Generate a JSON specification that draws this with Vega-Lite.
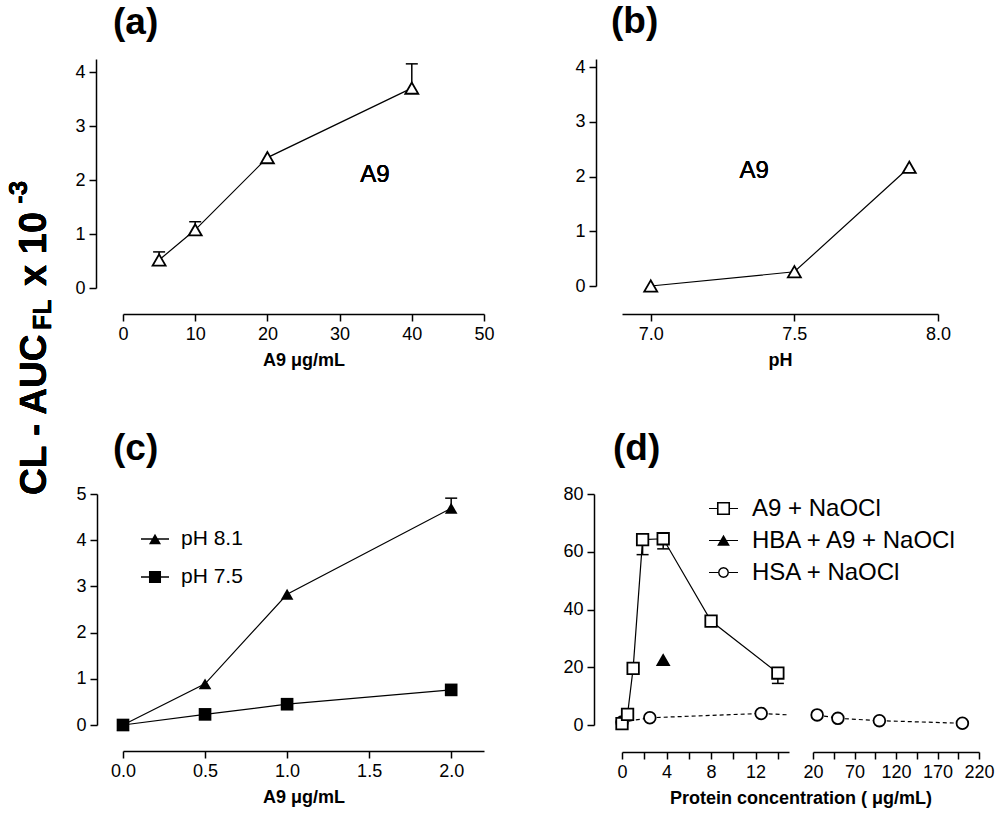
{
  "$schema": "https://vega.github.io/schema/vega-lite/v6.json",
  "background": "white",
  "padding": {"left": 5, "top": 3, "right": 5, "bottom": 5},
  "config": {
    "font": "Liberation Sans",
    "view": {"stroke": null},
    "point": {"opacity": 1},
    "tick": {"opacity": 1},
    "axis": {
      "grid": false,
      "domainColor": "black",
      "domainWidth": 1.5,
      "tickColor": "black",
      "tickWidth": 1.5,
      "tickSize": 7,
      "labelColor": "black",
      "labelFontSize": 18,
      "labelPadding": 4,
      "labelFlush": false,
      "labelOverlap": false,
      "titleColor": "black",
      "titleFontSize": 18,
      "titleFontWeight": "bold",
      "titlePadding": 8
    },
    "axisX": {"offset": 26},
    "axisY": {"offset": 27},
    "title": {
      "anchor": "start",
      "frame": "group",
      "fontSize": 37,
      "fontWeight": "bold",
      "color": "black",
      "baseline": "bottom",
      "offset": 17
    },
    "legend": {
      "title": null,
      "orient": "none",
      "padding": 0,
      "labelColor": "black",
      "labelLimit": 400,
      "symbolOpacity": 1,
      "symbolFillColor": "black",
      "symbolStrokeWidth": 0
    }
  },
  "datasets": {
    "a": [
      {"x": 5, "y": 0.52, "e": 0.67},
      {"x": 10, "y": 1.08, "e": 1.23},
      {"x": 20, "y": 2.42},
      {"x": 40, "y": 3.71, "e": 4.16}
    ],
    "b": [
      {"x": 7.0, "y": 0.0},
      {"x": 7.5, "y": 0.26},
      {"x": 7.9, "y": 2.17}
    ],
    "c": [
      {"s": "pH 8.1", "x": 0, "y": 0},
      {"s": "pH 8.1", "x": 0.5, "y": 0.89},
      {"s": "pH 8.1", "x": 1, "y": 2.83},
      {"s": "pH 8.1", "x": 2, "y": 4.69, "e": 4.91},
      {"s": "pH 7.5", "x": 0, "y": 0},
      {"s": "pH 7.5", "x": 0.5, "y": 0.23},
      {"s": "pH 7.5", "x": 1, "y": 0.45},
      {"s": "pH 7.5", "x": 2, "y": 0.76}
    ],
    "d": [
      {"s": "HSA + NaOCl", "x": 0, "y": 1.0},
      {"s": "HSA + NaOCl", "x": 2.5, "y": 2.5},
      {"s": "HSA + NaOCl", "x": 12.5, "y": 4.0},
      {"s": "HSA + NaOCl", "x": 25, "y": 3.5},
      {"s": "HSA + NaOCl", "x": 50, "y": 2.3},
      {"s": "HSA + NaOCl", "x": 100, "y": 1.5},
      {"s": "HSA + NaOCl", "x": 200, "y": 0.6},
      {"s": "A9 + NaOCl", "x": 0, "y": 0.5},
      {"s": "A9 + NaOCl", "x": 0.5, "y": 3.7},
      {"s": "A9 + NaOCl", "x": 1, "y": 19.6},
      {"s": "A9 + NaOCl", "x": 1.85, "y": 64.2, "e": 59},
      {"s": "A9 + NaOCl", "x": 3.7, "y": 64.5, "e": 61},
      {"s": "A9 + NaOCl", "x": 8, "y": 36},
      {"s": "A9 + NaOCl", "x": 14, "y": 18, "e": 14.4},
      {"s": "HBA + A9 + NaOCl", "x": 3.7, "y": 22.5}
    ]
  },
  "columns": 2,
  "bounds": "flush",
  "align": "each",
  "spacing": {"row": 206, "column": 138},
  "resolve": {
    "scale": {"shape": "independent", "fill": "independent", "size": "independent"},
    "legend": {"shape": "independent", "fill": "independent", "size": "independent"}
  },
  "concat": [
    {
      "width": 361,
      "height": 229,
      "title": {"text": "(a)", "dx": -10},
      "data": {"name": "a"},
      "layer": [
        {
          "mark": {"type": "line", "color": "black", "strokeWidth": 1.2},
          "encoding": {
            "x": {"field": "x", "type": "quantitative", "title": "A9 μg/mL",
                  "scale": {"domain": [0, 50], "nice": false, "zero": false},
                  "axis": {"values": [0, 10, 20, 30, 40, 50]}},
            "y": {"field": "y", "type": "quantitative",
                  "scale": {"domain": [0, 4.25], "nice": false},
                  "axis": {"values": [0, 1, 2, 3, 4], "format": "d", "title": null}}
          }
        },
        {
          "transform": [{"filter": "isValid(datum.e)"}],
          "mark": {"type": "rule", "color": "black", "strokeWidth": 1.5},
          "encoding": {
            "x": {"field": "x", "type": "quantitative"},
            "y": {"field": "y", "type": "quantitative"},
            "y2": {"field": "e"}
          }
        },
        {
          "transform": [{"filter": "isValid(datum.e)"}],
          "mark": {"type": "tick", "orient": "horizontal", "size": 12, "thickness": 1.5, "color": "black"},
          "encoding": {
            "x": {"field": "x", "type": "quantitative"},
            "y": {"field": "e", "type": "quantitative"}
          }
        },
        {
          "mark": {"type": "point", "shape": "triangle-up", "size": 169, "filled": true, "fill": "white", "stroke": "black", "strokeWidth": 1.8},
          "encoding": {
            "x": {"field": "x", "type": "quantitative"},
            "y": {"field": "y", "type": "quantitative"}
          }
        },
        {
          "mark": {"type": "text", "text": "A9", "fontSize": 24, "color": "black"},
          "encoding": {"x": {"datum": 34.9}, "y": {"datum": 2.1}}
        },
        {
          "mark": {"type": "text", "text": "CL - AUC", "fontSize": 37, "fontWeight": "bold", "angle": 270, "align": "left", "baseline": "middle", "color": "black"},
          "encoding": {"x": {"datum": -12.2}, "y": {"datum": -3.84}}
        },
        {
          "mark": {"type": "text", "text": "FL", "fontSize": 25, "fontWeight": "bold", "angle": 270, "align": "left", "baseline": "middle", "dx": 165, "dy": 8, "color": "black"},
          "encoding": {"x": {"datum": -12.2}, "y": {"datum": -3.84}}
        },
        {
          "mark": {"type": "text", "text": "x 10", "fontSize": 38, "fontWeight": "bold", "angle": 270, "align": "left", "baseline": "middle", "dx": 209, "color": "black"},
          "encoding": {"x": {"datum": -12.2}, "y": {"datum": -3.84}}
        },
        {
          "mark": {"type": "text", "text": "-3", "fontSize": 26, "fontWeight": "bold", "angle": 270, "align": "left", "baseline": "middle", "dx": 291, "dy": -16, "color": "black"},
          "encoding": {"x": {"datum": -12.2}, "y": {"datum": -3.84}}
        }
      ]
    },
    {
      "width": 316,
      "height": 227,
      "title": {"text": "(b)", "dx": -11},
      "data": {"name": "b"},
      "layer": [
        {
          "mark": {"type": "line", "color": "black", "strokeWidth": 1.2},
          "encoding": {
            "x": {"field": "x", "type": "quantitative", "title": "pH",
                  "scale": {"domain": [6.9, 8.0], "nice": false, "zero": false},
                  "axis": {"values": [7.0, 7.5, 8.0], "format": ".1f", "offset": 28}},
            "y": {"field": "y", "type": "quantitative",
                  "scale": {"domain": [0, 4.15], "nice": false},
                  "axis": {"values": [0, 1, 2, 3, 4], "format": "d", "title": null, "offset": 26}}
          }
        },
        {
          "mark": {"type": "point", "shape": "triangle-up", "size": 169, "filled": true, "fill": "white", "stroke": "black", "strokeWidth": 1.8},
          "encoding": {
            "x": {"field": "x", "type": "quantitative"},
            "y": {"field": "y", "type": "quantitative"}
          }
        },
        {
          "mark": {"type": "text", "text": "A9", "fontSize": 24, "color": "black"},
          "encoding": {"x": {"datum": 7.36}, "y": {"datum": 2.1}}
        }
      ]
    },
    {
      "width": 361,
      "height": 231,
      "title": {"text": "(c)", "dx": -10},
      "data": {"name": "c"},
      "layer": [
        {
          "mark": {"type": "line", "color": "black", "strokeWidth": 1.2},
          "encoding": {
            "x": {"field": "x", "type": "quantitative", "title": "A9 μg/mL",
                  "scale": {"domain": [0, 2.2], "nice": false, "zero": false},
                  "axis": {"values": [0, 0.5, 1, 1.5, 2], "format": ".1f"}},
            "y": {"field": "y", "type": "quantitative",
                  "scale": {"domain": [0, 5], "nice": false},
                  "axis": {"values": [0, 1, 2, 3, 4, 5], "format": "d", "title": null, "offset": 26}},
            "detail": {"field": "s"}
          }
        },
        {
          "transform": [{"filter": "isValid(datum.e)"}],
          "mark": {"type": "rule", "color": "black", "strokeWidth": 1.5},
          "encoding": {
            "x": {"field": "x", "type": "quantitative"},
            "y": {"field": "y", "type": "quantitative"},
            "y2": {"field": "e"}
          }
        },
        {
          "transform": [{"filter": "isValid(datum.e)"}],
          "mark": {"type": "tick", "orient": "horizontal", "size": 12, "thickness": 1.5, "color": "black"},
          "encoding": {
            "x": {"field": "x", "type": "quantitative"},
            "y": {"field": "e", "type": "quantitative"}
          }
        },
        {
          "mark": {"type": "point", "size": 160, "filled": true, "color": "black"},
          "encoding": {
            "x": {"field": "x", "type": "quantitative"},
            "y": {"field": "y", "type": "quantitative"},
            "shape": {
              "field": "s", "type": "nominal",
              "scale": {"domain": ["pH 8.1", "pH 7.5"], "range": ["triangle-up", "square"]},
              "legend": null
            }
          }
        },
        {
          "transform": [{"filter": "false"}],
          "mark": {"type": "point", "filled": true, "color": "black"},
          "encoding": {
            "shape": {
              "field": "s", "type": "nominal",
              "scale": {"domain": ["pH 8.1", "pH 7.5"],
                        "range": ["M0,-0.37L0.43,0.37L-0.43,0.37ZM-1,-0.045L1,-0.045L1,0.045L-1,0.045Z",
                                  "M-0.43,-0.43L0.43,-0.43L0.43,0.43L-0.43,0.43ZM-1,-0.045L1,-0.045L1,0.045L-1,0.045Z"]},
              "legend": {
                "legendX": 18,
                "legendY": 31,
                "symbolSize": 784,
                "labelFontSize": 21,
                "labelOffset": 12,
                "rowPadding": 14
              }
            }
          }
        }
      ],
      "resolve": {"scale": {"shape": "independent"}}
    },
    {
      "width": 357,
      "height": 231,
      "title": {"text": "(d)", "dx": -9},
      "data": {"name": "d"},
      "layer": [
        {
          "layer": [
            {
              "transform": [{"filter": "datum.s === 'HSA + NaOCl' && datum.x <= 25"}],
              "mark": {"type": "line", "color": "black", "strokeWidth": 1.2, "strokeDash": [4, 3]},
              "encoding": {
                "x": {"field": "x", "type": "quantitative", "title": "Protein concentration ( μg/mL)",
                      "scale": {"domain": [0, 15], "range": [0, 167], "clamp": true, "nice": false, "zero": false},
                      "axis": {"orient": "bottom", "offset": 27, "values": [0, 2, 4, 6, 8, 10, 12, 14],
                               "labelExpr": "datum.value % 4 === 0 ? datum.label : ''", "titleX": 178.5}},
                "y": {"field": "y", "type": "quantitative",
                      "scale": {"domain": [0, 80], "nice": false},
                      "axis": {"values": [0, 20, 40, 60, 80], "title": null, "offset": 28}}
              }
            },
            {
              "transform": [{"filter": "datum.s === 'A9 + NaOCl'"}],
              "mark": {"type": "line", "color": "black", "strokeWidth": 1.2},
              "encoding": {
                "x": {"field": "x", "type": "quantitative"},
                "y": {"field": "y", "type": "quantitative"}
              }
            },
            {
              "transform": [{"filter": "isValid(datum.e)"}],
              "mark": {"type": "rule", "color": "black", "strokeWidth": 1.5},
              "encoding": {
                "x": {"field": "x", "type": "quantitative"},
                "y": {"field": "y", "type": "quantitative"},
                "y2": {"field": "e"}
              }
            },
            {
              "transform": [{"filter": "isValid(datum.e)"}],
              "mark": {"type": "tick", "orient": "horizontal", "size": 12, "thickness": 1.5, "color": "black"},
              "encoding": {
                "x": {"field": "x", "type": "quantitative"},
                "y": {"field": "e", "type": "quantitative"}
              }
            },
            {
              "transform": [{"filter": "datum.x <= 15"}],
              "mark": {"type": "point", "filled": true, "stroke": "black", "strokeWidth": 1.8},
              "encoding": {
                "x": {"field": "x", "type": "quantitative"},
                "y": {"field": "y", "type": "quantitative"},
                "shape": {
                  "field": "s", "type": "nominal",
                  "scale": {"domain": ["A9 + NaOCl", "HBA + A9 + NaOCl", "HSA + NaOCl"], "range": ["square", "triangle-up", "circle"]},
                  "legend": null
                },
                "fill": {
                  "field": "s", "type": "nominal",
                  "scale": {"domain": ["A9 + NaOCl", "HBA + A9 + NaOCl", "HSA + NaOCl"], "range": ["white", "black", "white"]},
                  "legend": null
                },
                "size": {
                  "field": "s", "type": "nominal",
                  "scale": {"domain": ["A9 + NaOCl", "HBA + A9 + NaOCl", "HSA + NaOCl"], "range": [132, 137, 75]},
                  "legend": null
                }
              }
            }
          ]
        },
        {
          "layer": [
            {
              "transform": [{"filter": "datum.s === 'HSA + NaOCl' && datum.x >= 20"}],
              "mark": {"type": "line", "color": "black", "strokeWidth": 1.2, "strokeDash": [4, 3]},
              "encoding": {
                "x": {"field": "x", "type": "quantitative", "title": null,
                      "scale": {"domain": [20, 220], "range": [191, 357], "nice": false, "zero": false},
                      "axis": {"orient": "bottom", "offset": 27, "values": [20, 45, 70, 95, 120, 145, 170, 195, 220],
                               "labelExpr": "(datum.value - 20) % 50 === 0 ? datum.label : ''"}},
                "y": {"field": "y", "type": "quantitative"}
              }
            },
            {
              "transform": [{"filter": "datum.x >= 20"}],
              "mark": {"type": "point", "filled": true, "stroke": "black", "strokeWidth": 1.8},
              "encoding": {
                "x": {"field": "x", "type": "quantitative"},
                "y": {"field": "y", "type": "quantitative"},
                "shape": {
                  "field": "s", "type": "nominal",
                  "scale": {"domain": ["A9 + NaOCl", "HBA + A9 + NaOCl", "HSA + NaOCl"], "range": ["square", "triangle-up", "circle"]},
                  "legend": null
                },
                "fill": {
                  "field": "s", "type": "nominal",
                  "scale": {"domain": ["A9 + NaOCl", "HBA + A9 + NaOCl", "HSA + NaOCl"], "range": ["white", "black", "white"]},
                  "legend": null
                },
                "size": {
                  "field": "s", "type": "nominal",
                  "scale": {"domain": ["A9 + NaOCl", "HBA + A9 + NaOCl", "HSA + NaOCl"], "range": [132, 137, 75]},
                  "legend": null
                }
              }
            }
          ]
        },
        {
          "transform": [{"filter": "false"}],
          "mark": {"type": "point", "filled": true, "color": "black"},
          "encoding": {
            "shape": {
              "field": "s", "type": "nominal",
              "scale": {"domain": ["A9 + NaOCl", "HBA + A9 + NaOCl", "HSA + NaOCl"],
                        "range": [
                          "M-0.45,-0.45L0.45,-0.45L0.45,0.45L-0.45,0.45ZM-0.34,-0.34L-0.34,0.34L0.34,0.34L0.34,-0.34ZM-1,-0.041L-0.45,-0.041L-0.45,0.041L-1,0.041ZM0.45,-0.041L1,-0.041L1,0.041L0.45,0.041Z",
                          "M0,-0.4L0.44,0.36L-0.44,0.36ZM-1,-0.041L1,-0.041L1,0.041L-1,0.041Z",
                          "M0.38,0L0.329,0.19L0.19,0.329L0,0.38L-0.19,0.329L-0.329,0.19L-0.38,0L-0.329,-0.19L-0.19,-0.329L0,-0.38L0.19,-0.329L0.329,-0.19ZM0.28,0L0.242,-0.14L0.14,-0.242L0,-0.28L-0.14,-0.242L-0.242,-0.14L-0.28,0L-0.242,0.14L-0.14,0.242L0,0.28L0.14,0.242L0.242,0.14ZM-1,-0.041L-0.38,-0.041L-0.38,0.041L-1,0.041ZM0.38,-0.041L1,-0.041L1,0.041L0.38,0.041Z"
                        ]},
              "legend": {
                "legendX": 87,
                "legendY": 0,
                "symbolSize": 841,
                "labelFontSize": 24,
                "labelOffset": 14,
                "rowPadding": 5
              }
            }
          }
        }
      ],
      "resolve": {"scale": {"x": "independent", "shape": "independent"}, "axis": {"x": "independent"}}
    }
  ]
}
